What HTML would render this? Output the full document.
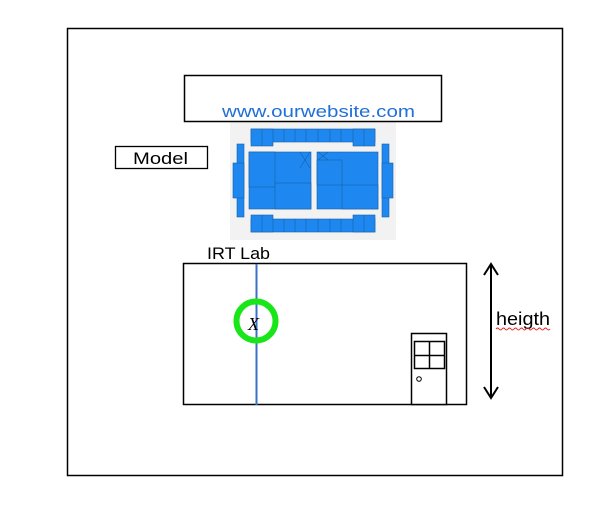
<!DOCTYPE html>
<html><head><style>html,body{margin:0;padding:0;background:#fff;}svg{display:block}</style></head>
<body>
<svg width="596" height="509" viewBox="0 0 596 509" xmlns="http://www.w3.org/2000/svg" font-family="Liberation Sans, sans-serif">
<rect x="67.5" y="28.5" width="495" height="447" fill="none" stroke="#000" stroke-width="1.5"/>
<rect x="230" y="122" width="166" height="118" fill="#f2f2f2"/>
<rect x="184.5" y="75.5" width="257" height="46" fill="#fff" stroke="#000" stroke-width="1.5"/>
<text x="222" y="117" font-size="17" fill="#1f6fd8" textLength="193" lengthAdjust="spacingAndGlyphs">www.ourwebsite.com</text>
<rect x="115.5" y="146.5" width="92" height="22" fill="#fff" stroke="#000" stroke-width="1.3"/>
<text x="133" y="164" font-size="17" fill="#000" textLength="55" lengthAdjust="spacingAndGlyphs">Model</text>
<g fill="#1e88f0" stroke="#1a5fa8" stroke-width="0.6">
<rect x="251" y="129" width="124" height="13"/>
<rect x="251" y="129" width="22" height="17"/>
<rect x="353" y="129" width="22" height="17"/>
<rect x="251" y="219" width="124" height="13"/>
<rect x="251" y="215" width="22" height="17"/>
<rect x="353" y="215" width="22" height="17"/>
<rect x="237" y="144" width="7" height="73"/>
<rect x="233" y="163" width="11" height="35"/>
<rect x="382" y="144" width="7" height="73"/>
<rect x="382" y="163" width="11" height="35"/>
<rect x="249" y="152" width="62" height="57"/>
<rect x="249" y="152" width="26" height="35"/>
<rect x="275" y="183" width="36" height="26"/>
<rect x="317" y="152" width="61" height="57"/>
<rect x="317" y="160" width="25" height="25"/>
<rect x="342" y="185" width="36" height="24"/>
</g>
<g stroke="#1a5fa8" stroke-width="0.6">
<line x1="262" y1="129" x2="262" y2="146"/><line x1="284" y1="129" x2="284" y2="142"/><line x1="295" y1="129" x2="295" y2="142"/><line x1="306" y1="129" x2="306" y2="142"/><line x1="318" y1="129" x2="318" y2="142"/><line x1="330" y1="129" x2="330" y2="142"/><line x1="341" y1="129" x2="341" y2="142"/><line x1="364" y1="129" x2="364" y2="146"/>
<line x1="262" y1="215" x2="262" y2="232"/><line x1="284" y1="219" x2="284" y2="232"/><line x1="295" y1="219" x2="295" y2="232"/><line x1="306" y1="219" x2="306" y2="232"/><line x1="318" y1="219" x2="318" y2="232"/><line x1="330" y1="219" x2="330" y2="232"/><line x1="341" y1="219" x2="341" y2="232"/><line x1="364" y1="215" x2="364" y2="232"/>
<line x1="300" y1="152" x2="310" y2="168"/><line x1="310" y1="152" x2="300" y2="168"/>
<line x1="318" y1="152" x2="328" y2="160"/><line x1="328" y1="152" x2="318" y2="160"/>
</g>
<text x="207" y="259" font-size="17" fill="#000" textLength="63" lengthAdjust="spacingAndGlyphs">IRT Lab</text>
<rect x="183.5" y="263.5" width="283" height="141" fill="none" stroke="#000" stroke-width="1.5"/>
<line x1="256.5" y1="264" x2="256.5" y2="405" stroke="#3a70c8" stroke-width="2"/>
<circle cx="256" cy="321" r="19.5" fill="none" stroke="#19e619" stroke-width="6"/>
<text x="248" y="330" font-size="18" font-style="italic" font-family="Liberation Serif, serif" fill="#000">X</text>
<rect x="411.5" y="333.5" width="35" height="71" fill="#fff" stroke="#000" stroke-width="1.5"/>
<rect x="414.5" y="341.5" width="30" height="27" fill="none" stroke="#000" stroke-width="1.5"/>
<line x1="429.5" y1="341" x2="429.5" y2="369" stroke="#000" stroke-width="1.5"/>
<line x1="414" y1="355.5" x2="445" y2="355.5" stroke="#000" stroke-width="1.5"/>
<circle cx="419" cy="379" r="2.3" fill="none" stroke="#000" stroke-width="1"/>
<line x1="491" y1="264" x2="491" y2="398" stroke="#000" stroke-width="2"/>
<polyline points="484,275 491,264 498,275" fill="none" stroke="#000" stroke-width="2"/>
<polyline points="484,387 491,398 498,387" fill="none" stroke="#000" stroke-width="2"/>
<text x="496" y="325" font-size="18" fill="#000" textLength="54" lengthAdjust="spacingAndGlyphs">heigth</text>
<path d="M496 329 q1.5 -2 3 0 t3 0 t3 0 t3 0 t3 0 t3 0 t3 0 t3 0 t3 0 t3 0 t3 0 t3 0 t3 0 t3 0 t3 0 t3 0 t3 0 t3 0" fill="none" stroke="#e02020" stroke-width="0.9"/>
</svg>
</body></html>
